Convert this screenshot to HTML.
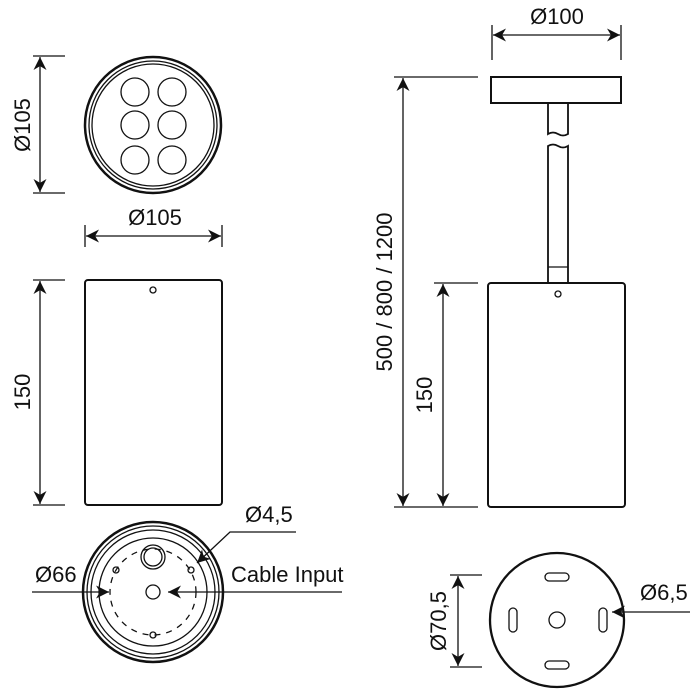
<!DOCTYPE html>
<html><head><style>html,body{margin:0;padding:0;background:#fff}svg{display:block}text{font-family:"Liberation Sans Narrow","Liberation Sans",sans-serif;font-size:22px;fill:#111}</style></head><body>
<svg width="700" height="700" viewBox="0 0 700 700" xmlns="http://www.w3.org/2000/svg">
<defs>
<marker id="a" viewBox="0 0 10 10" refX="10" refY="5" markerWidth="18" markerHeight="13" markerUnits="userSpaceOnUse" orient="auto-start-reverse"><path d="M0,0 L10,5 L0,10 L3,5 z" fill="#111"/></marker>
</defs>
<g stroke="#111" fill="none" stroke-width="1.3">
<circle cx="153" cy="125" r="68" stroke-width="2.5"/>
<circle cx="153" cy="125" r="64"/>
<circle cx="153" cy="125" r="61"/>
<circle cx="135" cy="92" r="14"/><circle cx="172" cy="92" r="14"/>
<circle cx="135" cy="125" r="14"/><circle cx="172" cy="125" r="14"/>
<circle cx="135" cy="160" r="14"/><circle cx="172" cy="160" r="14"/>
<line x1="33" y1="56" x2="65" y2="56"/><line x1="33" y1="193" x2="65" y2="193"/>
<line x1="40" y1="57" x2="40" y2="192" marker-start="url(#a)" marker-end="url(#a)"/>
<line x1="85" y1="225" x2="85" y2="247"/><line x1="222" y1="225" x2="222" y2="247"/>
<line x1="86" y1="236" x2="221" y2="236" marker-start="url(#a)" marker-end="url(#a)"/>
<rect x="85" y="280" width="137" height="225" rx="3" stroke-width="2"/>
<circle cx="153" cy="290" r="3"/>
<line x1="33" y1="280" x2="65" y2="280"/><line x1="33" y1="505" x2="65" y2="505"/>
<line x1="40" y1="281" x2="40" y2="504" marker-start="url(#a)" marker-end="url(#a)"/>
<circle cx="153" cy="592" r="70" stroke-width="2.5"/>
<circle cx="153" cy="592" r="66"/>
<circle cx="153" cy="592" r="62"/>
<circle cx="153" cy="592" r="54"/>
<circle cx="153" cy="592" r="43" stroke-dasharray="6,6"/>
<circle cx="153" cy="557" r="12"/><circle cx="153" cy="557" r="9"/>
<circle cx="153" cy="592" r="7"/>
<circle cx="116" cy="570" r="3"/><circle cx="191" cy="570" r="3"/><circle cx="153" cy="635" r="3"/>
<line x1="32" y1="592" x2="109" y2="592" marker-end="url(#a)"/>
<line x1="342" y1="592" x2="168" y2="592" marker-end="url(#a)"/>
<polyline points="296,532 230,532 197,563" marker-end="url(#a)"/>
<line x1="492" y1="25" x2="492" y2="60"/><line x1="621" y1="25" x2="621" y2="60"/>
<line x1="493" y1="35" x2="620" y2="35" marker-start="url(#a)" marker-end="url(#a)"/>
<rect x="491" y="77" width="130" height="26" stroke-width="2"/>
<path d="M548,103 V134 Q553,131 558,134 T568,134 V103" stroke-width="1.8"/>
<path d="M548,283 V146 Q553,143 558,146 T568,146 V283" stroke-width="1.8"/>
<line x1="548" y1="267" x2="568" y2="267"/>
<rect x="488" y="283" width="137" height="224" rx="3" stroke-width="2"/>
<circle cx="558" cy="294" r="3"/>
<line x1="394" y1="77" x2="478" y2="77"/><line x1="394" y1="507" x2="478" y2="507"/>
<line x1="403" y1="78" x2="403" y2="506" marker-start="url(#a)" marker-end="url(#a)"/>
<line x1="434" y1="283" x2="478" y2="283"/>
<line x1="443" y1="284" x2="443" y2="506" marker-start="url(#a)" marker-end="url(#a)"/>
<circle cx="557" cy="620" r="67" stroke-width="2.3"/>
<circle cx="557" cy="620" r="8"/>
<rect x="545" y="573" width="24" height="8" rx="4"/>
<rect x="545" y="661" width="24" height="8" rx="4"/>
<rect x="509" y="608" width="8" height="24" rx="4"/>
<rect x="599" y="608" width="8" height="24" rx="4"/>
<line x1="450" y1="575" x2="482" y2="575"/><line x1="450" y1="667" x2="482" y2="667"/>
<line x1="458" y1="576" x2="458" y2="666" marker-start="url(#a)" marker-end="url(#a)"/>
<line x1="690" y1="612" x2="612" y2="612" marker-end="url(#a)"/>
</g>
<text x="155" y="225" text-anchor="middle">Ø105</text>
<text transform="translate(30,125) rotate(-90)" text-anchor="middle">Ø105</text>
<text transform="translate(30,392) rotate(-90)" text-anchor="middle">150</text>
<text x="35" y="582">Ø66</text>
<text x="231" y="582">Cable Input</text>
<text x="245" y="522">Ø4,5</text>
<text x="557" y="24" text-anchor="middle">Ø100</text>
<text transform="translate(392,292) rotate(-90)" text-anchor="middle">500 / 800 / 1200</text>
<text transform="translate(432,395) rotate(-90)" text-anchor="middle">150</text>
<text transform="translate(446,621) rotate(-90)" text-anchor="middle">Ø70,5</text>
<text x="640" y="600">Ø6,5</text>
</svg>
</body></html>
